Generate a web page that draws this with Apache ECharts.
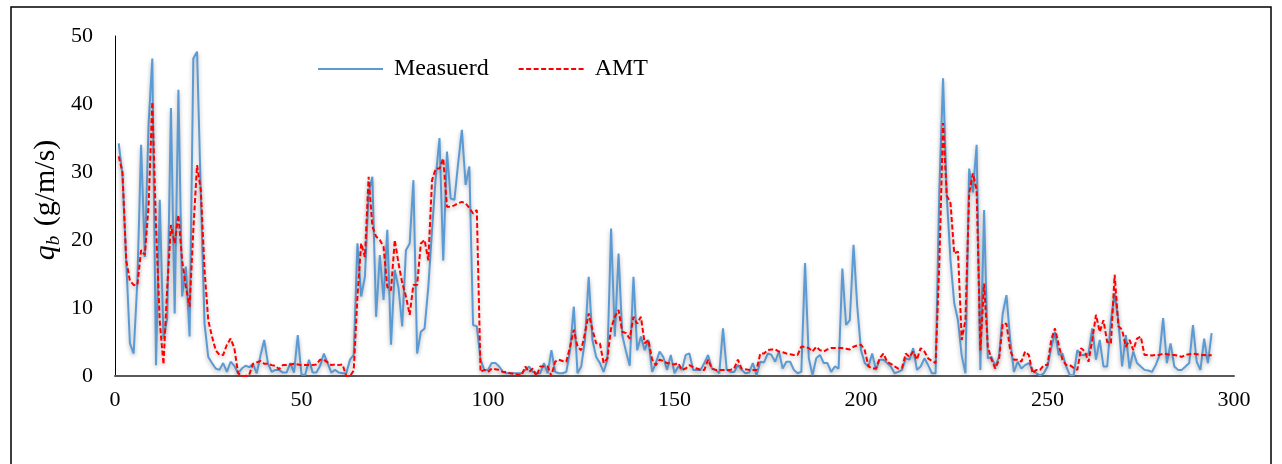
<!DOCTYPE html>
<html>
<head>
<meta charset="utf-8">
<script src="https://cdn.jsdelivr.net/npm/echarts@6/dist/echarts.min.js"></script>
<style>
  html, body { margin: 0; padding: 0; background: #fff; }
  #chart { width: 1282px; height: 464px; }
</style>
</head>
<body>
<div id="chart"></div>
<script>
// Bed-load transport rate q_b (g/m/s), sample number 1..294
const seriesNames = ['Measuerd', 'AMT'];

const measured = [
  34.2, 29.5, 17, 4.8, 3.3, 14, 34, 17.5, 37, 46.7,
  1.6, 25.9, 5.5, 8.5, 39.4, 9.2, 42.1, 11.7, 16.1, 5.8,
  46.7, 47.7, 27, 7.7, 2.8, 1.9, 1.1, 0.9, 1.9, 0.6,
  2.1, 1.5, 0.4, 1.1, 1.5, 1.3, 1.8, 0.4, 3.0, 5.3,
  1.9, 0.6, 0.9, 0.9, 0.5, 0.5, 1.9, 0.5, 6.0, 0.2,
  0.2, 2.4, 0.5, 0.5, 1.5, 3.3, 1.9, 0.5, 0.9, 0.5,
  0.4, 0.4, 2.4, 3.1, 19.5, 11.7, 14.6, 27, 29.3, 8.7,
  17.8, 11.2, 21.5, 4.6, 15.6, 13, 7.3, 18.5, 19.5, 28.8,
  3.3, 6.5, 7, 13.1, 21.5, 29.3, 35, 17, 33, 26.1,
  25.9, 31.3, 36.2, 28.1, 30.8, 7.5, 7.3, 2.4, 0.9, 0.9,
  1.9, 1.9, 1.4, 0.6, 0.4, 0.4, 0.4, 0.4, 0.4, 0.9,
  1.4, 0.6, 0.4, 0.4, 1.9, 0.4, 3.8, 0.6, 0.4, 0.4,
  0.6, 3.8, 10.2, 0.4, 1.4, 5.3, 14.6, 5.3, 2.8, 1.9,
  0.6, 2.4, 21.7, 5.8, 18, 6, 3.6, 1.5, 14.6, 3.8,
  5.8, 3.8, 5.3, 0.6, 1.9, 3.6, 2.8, 0.9, 3.1, 0.4,
  1.4, 0.9, 3.1, 3.3, 0.9, 0.9, 0.9, 1.9, 3.1, 1.1,
  0.9, 0.4, 7, 0.9, 0.6, 0.6, 1.6, 0.9, 0.4, 0.5,
  1.9, 0.1, 2.1, 2, 3.3, 3.1, 2.1, 3.6, 1.1, 2.1,
  2.1, 0.9, 0.4, 0.6, 16.6, 2.6, 0.1, 2.6, 3.1, 1.9,
  1.9, 0.6, 1.4, 1.1, 15.8, 7.5, 8.2, 19.3, 10.2, 3.8,
  1.9, 1.4, 3.3, 0.9, 2.4, 2.4, 1.9, 1.4, 0.4, 0.6,
  0.9, 2.6, 2.4, 4.1, 0.9, 1.4, 2.6, 1.6, 0.4, 0.4,
  27.4, 43.8, 26.4, 17, 10.7, 8.2, 3, 0.4, 30.5, 27,
  34, 0.9, 24.4, 2.6, 2.8, 1.4, 2.8, 9.2, 11.9, 5.3,
  0.6, 2.1, 1.1, 1.6, 1.9, 0.9, 0.4, 0.1, 0.4, 1.4,
  4.1, 6.5, 3.1, 3.3, 1.4, 0.1, 0.1, 3.8, 3.1, 3.1,
  3.3, 7, 2.4, 5.3, 1.4, 1.4, 8.2, 12.2, 8.2, 1.4,
  6, 1.1, 3.6, 1.9, 1.4, 0.9, 0.8, 0.6, 1.6, 3,
  8.5, 1.9, 4.8, 1.4, 0.9, 0.9, 1.4, 1.9, 7.5, 2.1,
  0.9, 5.5, 1.9, 6.3
];

const amt = [
  32.3, 30, 17, 14, 13.4, 13.4, 18.5, 17.8, 25, 40.3,
  22, 8, 1.7, 13, 22.2, 19.5, 23.7, 17, 13.1, 10.2,
  21.5, 31, 27.4, 15.6, 8.2, 5.8, 3.8, 3.1, 3.1, 4.6,
  5.5, 4.1, 0.4, 0, 0, 0.2, 1.8, 2, 2.2, 1.8,
  1.8, 1.6, 1.5, 1.0, 1.6, 1.6, 1.7, 1.8, 1.7, 1.6,
  1.6, 1.6, 1.6, 1.7, 2.4, 2.4, 2.0, 1.6, 1.7, 1.6,
  1.7, 0, 0, 0.8, 11.7, 19.5, 17.5, 29.3, 22, 20.5,
  20, 19, 13.1, 12.6, 20, 16.6, 13.7, 11.7, 9, 13.4,
  13.4, 19.5, 20, 17, 28.8, 30.5, 30.5, 32, 24.9, 24.9,
  25.1, 25.4, 25.6, 25.4, 24.7, 23.9, 24.4, 0.6, 0.9, 0.6,
  1.1, 1, 0.9, 0.6, 0.6, 0.4, 0.3, 0.2, 0.1, 1.4,
  0.6, 1.1, 0, 1.4, 1.4, 1.4, 0, 2.1, 2.4, 2.2,
  2.1, 4.3, 6.8, 4.3, 3.8, 6.3, 9.2, 6.8, 4.8, 4.8,
  1.9, 2.6, 7, 8.7, 9.7, 6.5, 6.3, 5.5, 8.7, 7.7,
  8.7, 4.8, 5.3, 2.4, 1.6, 2.4, 2.2, 1.9, 1.8, 1.7,
  1.9, 0.9, 1.1, 1.6, 1.3, 1.1, 0.9, 0.9, 2.4, 1.1,
  0.9, 0.9, 0.9, 0.9, 0.9, 1.1, 2.4, 1.1, 1.0, 0.9,
  0.9, 0.9, 3.3, 3.3, 3.8, 3.9, 3.9, 3.6, 3.5, 3.3,
  3.2, 3.1, 3.1, 4.3, 4.3, 4.1, 3.6, 4.3, 3.8, 3.6,
  3.9, 4.1, 4.1, 4.1, 4.1, 4.0, 3.9, 4.3, 4.5, 4.6,
  3.8, 1.4, 1.1, 1.1, 2.6, 3.3, 2.1, 1.8, 1.4, 1.1,
  1.2, 3.3, 2.8, 3.6, 2.4, 4.1, 3.6, 2.6, 2.2, 1.9,
  16.6, 37.2, 26.5, 25.4, 18, 18.3, 5.3, 8.2, 26.9, 29.8,
  27.4, 3.8, 13.6, 4.3, 2.4, 1.1, 2.4, 7.7, 7.7, 3.8,
  2.4, 2.4, 2.1, 3.6, 3.1, 0.4, 0.9, 0.9, 1.6, 1.6,
  5.3, 7, 4.6, 2.4, 1.6, 1.6, 1.2, 0.9, 4.1, 3.6,
  2.1, 5.3, 9, 6.5, 8.2, 5, 4.8, 14.9, 7.3, 6.8,
  4.3, 5.3, 3.8, 5.5, 5.8, 3.1, 3.1, 3.0, 3.1, 3.1,
  3.3, 3.2, 3.1, 3.1, 3.0, 2.8, 3.1, 3.2, 3.3, 3.2,
  3.1, 3.1, 3.0, 3.1
];

const xTicks = [0, 50, 100, 150, 200, 250, 300];
const yTicks = [0, 10, 20, 30, 40, 50];

const toPoints = arr => arr.map((v, i) => [i + 1, v]);

const serif = '"Liberation Serif", "Times New Roman", serif';
const chart = echarts.init(document.getElementById('chart'), null, { renderer: 'canvas' });

chart.setOption({
  backgroundColor: '#ffffff',
  animation: false,
  grid: { left: 115, right: 48, top: 36, bottom: 88, containLabel: false },
  legend: {
    top: 52,
    left: 312,
    itemWidth: 65,
    itemHeight: 12,
    itemGap: 29,
    itemStyle: { opacity: 0 },
    textStyle: { fontFamily: serif, fontSize: 24, color: '#000', padding: [0, 0, 0, 6] },
    data: seriesNames
  },
  xAxis: {
    type: 'value',
    min: xTicks[0],
    max: xTicks[xTicks.length - 1],
    interval: 50,
    axisLine: { show: true, lineStyle: { color: '#595959', width: 2 } },
    axisTick: { show: false },
    splitLine: { show: false },
    axisLabel: { fontFamily: serif, fontSize: 22, color: '#000', margin: 13 }
  },
  yAxis: {
    type: 'value',
    min: yTicks[0],
    max: yTicks[yTicks.length - 1],
    interval: 10,
    axisLine: { show: true, lineStyle: { color: '#000', width: 1 } },
    axisTick: { show: false },
    splitLine: { show: false },
    axisLabel: { fontFamily: serif, fontSize: 22, color: '#000', margin: 22 }
  },
  graphic: [
    {
      type: 'rect',
      shape: { x: 11, y: 7, width: 1260, height: 470 },
      style: { fill: 'none', stroke: '#000', lineWidth: 1.5 },
      silent: true
    },
    {
      type: 'text',
      x: 46,
      y: 200,
      rotation: Math.PI / 2,
      style: {
        text: '{q|q}{b|b}{n| (g/m/s)}',
        align: 'center',
        verticalAlign: 'middle',
        rich: {
          q: { fontFamily: serif, fontSize: 30, fontStyle: 'italic', fill: '#000', lineHeight: 34 },
          b: { fontFamily: serif, fontSize: 19, fontStyle: 'italic', fill: '#000', verticalAlign: 'top', padding: [15, 2, 0, 0], lineHeight: 20 },
          n: { fontFamily: serif, fontSize: 30, fill: '#000', lineHeight: 34 }
        }
      }
    }
  ],
  series: [
    {
      name: seriesNames[0],
      type: 'line',
      data: toPoints(measured),
      symbol: 'none',
      lineStyle: {
        color: '#5B9BD5', width: 2,
        shadowColor: 'rgba(0,0,0,0.3)', shadowBlur: 4, shadowOffsetY: 2
      },
      itemStyle: { color: '#5B9BD5' },
      z: 2
    },
    {
      name: seriesNames[1],
      type: 'line',
      data: toPoints(amt),
      symbol: 'none',
      lineStyle: {
        color: '#FF0000', width: 2, type: [5, 2.5],
        shadowColor: 'rgba(0,0,0,0.3)', shadowBlur: 4, shadowOffsetY: 2
      },
      itemStyle: { color: '#FF0000' },
      z: 3
    }
  ]
});
</script>
</body>
</html>
